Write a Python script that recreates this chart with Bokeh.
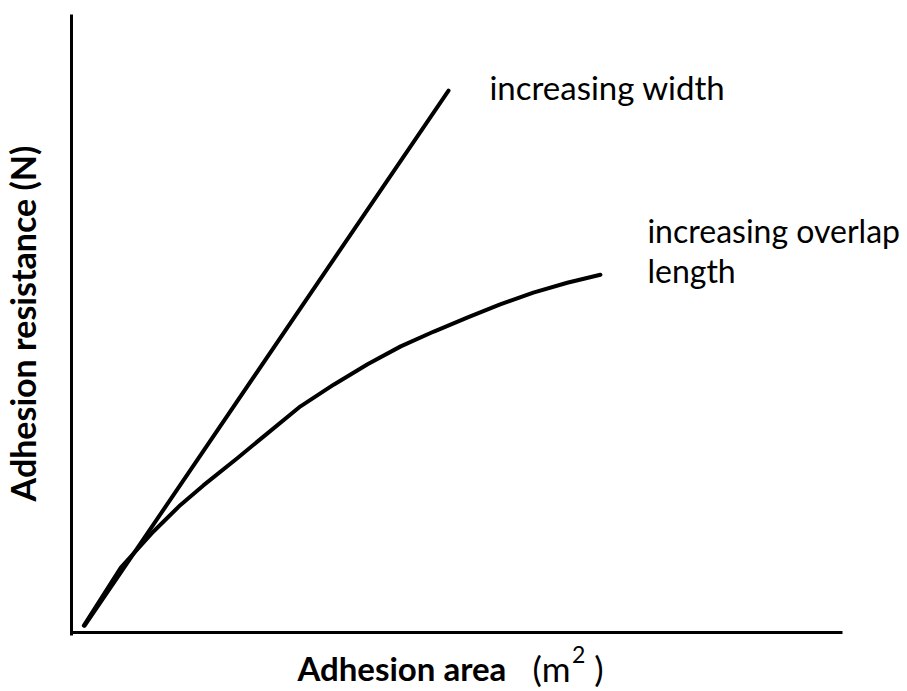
import math
from bokeh.plotting import figure
from bokeh.models import Range1d, Label, FixedTicker
from bokeh.embed import file_html
from bokeh.resources import INLINE

# Arbitrary units (no numeric scale on the original chart)
width_area = [1.7, 48.9]
width_resistance = [1.1, 87.7]

overlap_area = [1.6, 6.4, 10.6, 14.1, 17.1, 21.5, 24.9, 29.7, 34.0, 38.4, 42.7,
                47.0, 51.4, 55.6, 59.9, 64.3, 68.6]
overlap_resistance = [1.1, 10.5, 16.3, 20.6, 23.8, 28.2, 31.7, 36.6, 40.1, 43.4, 46.3,
                      48.7, 51.0, 53.1, 55.0, 56.6, 57.9]

x_label = "Adhesion area"
x_unit = "(m"
x_unit_power = "2"
x_unit_close = ")"
y_label = "Adhesion resistance (N)"
width_label = "increasing width"
overlap_label_1 = "increasing overlap"
overlap_label_2 = "length"

p = figure(width=907, height=691, output_backend="svg", toolbar_location=None,
           x_range=Range1d(-9.21, 108.43), y_range=Range1d(-9.55, 102.27),
           min_border=0)
p.outline_line_color = None
p.grid.visible = False
p.background_fill_color = "white"
p.border_fill_color = "white"
for ax in (p.xaxis[0], p.yaxis[0]):
    ax.ticker = FixedTicker(ticks=[])
    ax.major_tick_line_color = None
    ax.minor_tick_line_color = None
    ax.major_label_text_font_size = "0px"
    ax.axis_line_width = 3
    ax.axis_line_color = "#000000"
    ax.fixed_location = 0
p.xaxis[0].bounds = (0, 100)
p.yaxis[0].bounds = (-0.5, 100)

p.line(width_area, width_resistance, line_width=4, line_color="#000000", line_cap="round")
p.line(overlap_area, overlap_resistance, line_width=4, line_color="#000000",
       line_cap="round", line_join="round")

font = "Lato"
p.add_layout(Label(x=54.2, y=88.2, text=width_label, text_font=font, text_font_size="33px",
                   text_color="#000000", text_align="left", text_baseline="alphabetic"))
p.add_layout(Label(x=74.7, y=65.0, text=overlap_label_1, text_font=font, text_font_size="32px",
                   text_color="#000000", text_align="left", text_baseline="alphabetic"))
p.add_layout(Label(x=74.7, y=58.6, text=overlap_label_2, text_font=font, text_font_size="32px",
                   text_color="#000000", text_align="left", text_baseline="alphabetic"))

bold = dict(text_font=font, text_font_style="bold", text_color="#000000")
p.add_layout(Label(x=29.3, y=-5.8, text=x_label, text_align="left",
                   text_baseline="alphabetic", text_font_size="33px", **bold))
p.add_layout(Label(x=59.8, y=-5.8, text=x_unit, text_align="left", text_baseline="alphabetic",
                   text_font=font, text_font_size="35px", text_color="#000000"))
p.add_layout(Label(x=64.9, y=-3.6, text=x_unit_power, text_align="left",
                   text_baseline="alphabetic",
                   text_font=font, text_font_size="23px", text_color="#000000"))
p.add_layout(Label(x=67.8, y=-5.8, text=x_unit_close, text_align="left",
                   text_baseline="alphabetic",
                   text_font=font, text_font_size="35px", text_color="#000000"))
p.add_layout(Label(x=-6.4, y=50.0, text=y_label, angle=math.pi / 2,
                   text_align="center", text_baseline="middle", text_font_size="34px", **bold))

open("out.html", "w").write(file_html(p, INLINE))
